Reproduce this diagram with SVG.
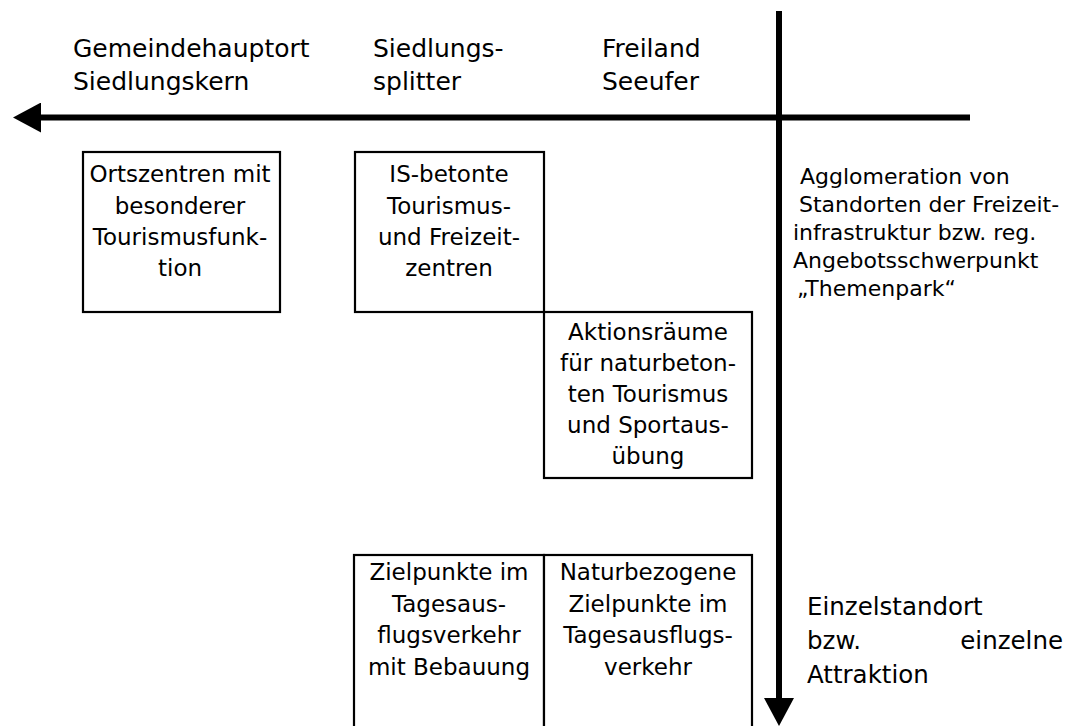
<svg xmlns="http://www.w3.org/2000/svg" width="1067" height="726" viewBox="0 0 1067 726">
  <style>
    text { font-family: "DejaVu Sans", "Liberation Sans", sans-serif; fill: #000; }
    .hdr { font-size: 25px; }
    .box { fill: #fff; stroke: #000; stroke-width: 2.2; }
    .bt { font-size: 23px; text-anchor: middle; }
    .side { font-size: 22px; }
    .side2 { font-size: 24.5px; }
    .axis { stroke: #000; stroke-width: 6; fill: none; }
  </style>
  <defs>
    <marker id="ah" markerUnits="userSpaceOnUse" markerWidth="28" markerHeight="30" viewBox="0 0 28 30" refX="0" refY="15" orient="auto">
      <path d="M0,0 L28,15 L0,30 Z" fill="#000"/>
    </marker>
  </defs>

  <rect width="1067" height="726" fill="#fff"/>

  <g id="headers">
    <text class="hdr" x="73" y="57">Gemeindehauptort</text>
    <text class="hdr" x="73" y="90">Siedlungskern</text>
    <text class="hdr" x="373" y="57">Siedlungs-</text>
    <text class="hdr" x="373" y="90">splitter</text>
    <text class="hdr" x="602" y="57">Freiland</text>
    <text class="hdr" x="602" y="90">Seeufer</text>
  </g>

  <g id="connectors">
    <line class="axis" x1="970" y1="117.5" x2="41" y2="117.5" marker-end="url(#ah)"/>
    <line class="axis" x1="779" y1="11" x2="779" y2="698" marker-end="url(#ah)"/>
  </g>

  <g id="node-ortszentren">
    <rect class="box" x="83" y="152" width="197" height="160"/>
    <text class="bt" x="180" y="182">Ortszentren mit</text>
    <text class="bt" x="180" y="213.5">besonderer</text>
    <text class="bt" x="180" y="245">Tourismusfunk-</text>
    <text class="bt" x="180" y="276">tion</text>
  </g>

  <g id="node-is-betonte">
    <rect class="box" x="355" y="152" width="189" height="160"/>
    <text class="bt" x="449" y="182">IS-betonte</text>
    <text class="bt" x="449" y="213.5">Tourismus-</text>
    <text class="bt" x="449" y="245">und Freizeit-</text>
    <text class="bt" x="449" y="276">zentren</text>
  </g>

  <g id="node-aktionsraeume">
    <rect class="box" x="544" y="312" width="208" height="166"/>
    <text class="bt" x="648" y="340">Aktionsräume</text>
    <text class="bt" x="648" y="371">für naturbeton-</text>
    <text class="bt" x="648" y="402">ten Tourismus</text>
    <text class="bt" x="648" y="433">und Sportaus-</text>
    <text class="bt" x="648" y="464">übung</text>
  </g>

  <g id="node-zielpunkte">
    <rect class="box" x="354" y="555" width="190" height="200"/>
    <text class="bt" x="449" y="580">Zielpunkte im</text>
    <text class="bt" x="449" y="611.5">Tagesaus-</text>
    <text class="bt" x="449" y="643">flugsverkehr</text>
    <text class="bt" x="449" y="674.5">mit Bebauung</text>
  </g>

  <g id="node-naturbezogene">
    <rect class="box" x="544" y="555" width="208" height="200"/>
    <text class="bt" x="648" y="580">Naturbezogene</text>
    <text class="bt" x="648" y="611.5">Zielpunkte im</text>
    <text class="bt" x="648" y="643">Tagesausflugs-</text>
    <text class="bt" x="648" y="674.5">verkehr</text>
  </g>

  <g id="label-agglomeration">
    <text class="side" x="800" y="184">Agglomeration von</text>
    <text class="side" x="799" y="212">Standorten der Freizeit-</text>
    <text class="side" x="793" y="240">infrastruktur bzw. reg.</text>
    <text class="side" x="793" y="268">Angebotsschwerpunkt</text>
    <text class="side" x="797" y="296">„Themenpark“</text>
  </g>

  <g id="label-einzelstandort">
    <text class="side2" x="807" y="615">Einzelstandort</text>
    <text class="side2" x="807" y="649">bzw.</text>
    <text class="side2" x="1063" y="649" text-anchor="end">einzelne</text>
    <text class="side2" x="807" y="683">Attraktion</text>
  </g>
</svg>
